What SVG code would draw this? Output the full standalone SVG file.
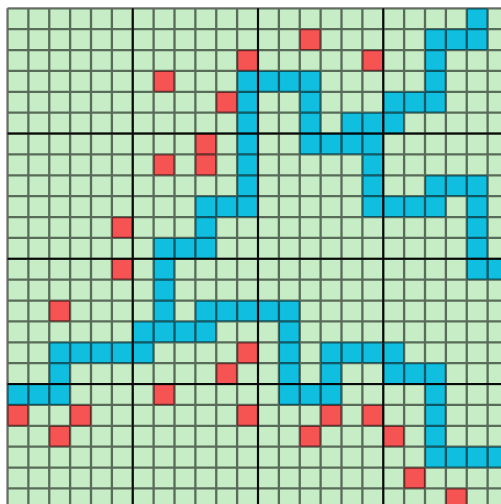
<svg xmlns="http://www.w3.org/2000/svg" width="501" height="504" viewBox="0 0 501 504">
  <style>
    .bg{fill:#ffffff}
    .empty{fill:#c6edc6}
    .wall{fill:#f65353}
    .path{fill:#10bee0}
    .grid{fill:none;stroke:#000;stroke-opacity:0.55;stroke-width:2.3}
    .major{fill:none;stroke:#000;stroke-opacity:0.9;stroke-width:2}
  </style>
  <rect class="bg" x="0" y="0" width="501" height="504"/>
  <g id="board" transform="translate(7.5 8.3) scale(20.875)">
    <rect class="empty" x="0" y="0" width="24" height="24"/>
    <g id="walls" class="wall">
      <rect x="14" y="1" width="1" height="1"/>
      <rect x="11" y="2" width="1" height="1"/>
      <rect x="17" y="2" width="1" height="1"/>
      <rect x="7" y="3" width="1" height="1"/>
      <rect x="10" y="4" width="1" height="1"/>
      <rect x="9" y="6" width="1" height="1"/>
      <rect x="7" y="7" width="1" height="1"/>
      <rect x="9" y="7" width="1" height="1"/>
      <rect x="5" y="10" width="1" height="1"/>
      <rect x="5" y="12" width="1" height="1"/>
      <rect x="2" y="14" width="1" height="1"/>
      <rect x="11" y="16" width="1" height="1"/>
      <rect x="10" y="17" width="1" height="1"/>
      <rect x="7" y="18" width="1" height="1"/>
      <rect x="0" y="19" width="1" height="1"/>
      <rect x="3" y="19" width="1" height="1"/>
      <rect x="11" y="19" width="1" height="1"/>
      <rect x="15" y="19" width="1" height="1"/>
      <rect x="17" y="19" width="1" height="1"/>
      <rect x="2" y="20" width="1" height="1"/>
      <rect x="14" y="20" width="1" height="1"/>
      <rect x="18" y="20" width="1" height="1"/>
      <rect x="19" y="22" width="1" height="1"/>
      <rect x="21" y="23" width="1" height="1"/>
    </g>
    <g id="route" class="path">
      <rect x="22" y="0" width="1" height="1"/>
      <rect x="20" y="1" width="3" height="1"/>
      <rect x="20" y="2" width="1" height="1"/>
      <rect x="11" y="3" width="4" height="1"/>
      <rect x="20" y="3" width="1" height="1"/>
      <rect x="11" y="4" width="1" height="1"/>
      <rect x="14" y="4" width="1" height="1"/>
      <rect x="18" y="4" width="3" height="1"/>
      <rect x="11" y="5" width="1" height="1"/>
      <rect x="14" y="5" width="1" height="1"/>
      <rect x="16" y="5" width="3" height="1"/>
      <rect x="11" y="6" width="1" height="1"/>
      <rect x="14" y="6" width="4" height="1"/>
      <rect x="11" y="7" width="1" height="1"/>
      <rect x="17" y="7" width="1" height="1"/>
      <rect x="11" y="8" width="1" height="1"/>
      <rect x="17" y="8" width="1" height="1"/>
      <rect x="20" y="8" width="3" height="1"/>
      <rect x="9" y="9" width="3" height="1"/>
      <rect x="17" y="9" width="4" height="1"/>
      <rect x="22" y="9" width="1" height="1"/>
      <rect x="9" y="10" width="1" height="1"/>
      <rect x="22" y="10" width="1" height="1"/>
      <rect x="7" y="11" width="3" height="1"/>
      <rect x="22" y="11" width="1" height="1"/>
      <rect x="7" y="12" width="1" height="1"/>
      <rect x="22" y="12" width="2" height="1"/>
      <rect x="7" y="13" width="1" height="1"/>
      <rect x="7" y="14" width="1" height="1"/>
      <rect x="9" y="14" width="5" height="1"/>
      <rect x="6" y="15" width="4" height="1"/>
      <rect x="13" y="15" width="1" height="1"/>
      <rect x="2" y="16" width="5" height="1"/>
      <rect x="13" y="16" width="1" height="1"/>
      <rect x="15" y="16" width="4" height="1"/>
      <rect x="2" y="17" width="1" height="1"/>
      <rect x="13" y="17" width="1" height="1"/>
      <rect x="15" y="17" width="1" height="1"/>
      <rect x="18" y="17" width="3" height="1"/>
      <rect x="0" y="18" width="3" height="1"/>
      <rect x="13" y="18" width="3" height="1"/>
      <rect x="20" y="18" width="1" height="1"/>
      <rect x="20" y="19" width="1" height="1"/>
      <rect x="20" y="20" width="1" height="1"/>
      <rect x="20" y="21" width="4" height="1"/>
    </g>
    <path class="grid" vector-effect="non-scaling-stroke" d="M0 0V24M1 0V24M2 0V24M3 0V24M4 0V24M5 0V24M6 0V24M7 0V24M8 0V24M9 0V24M10 0V24M11 0V24M12 0V24M13 0V24M14 0V24M15 0V24M16 0V24M17 0V24M18 0V24M19 0V24M20 0V24M21 0V24M22 0V24M23 0V24M24 0V24M0 0H24M0 1H24M0 2H24M0 3H24M0 4H24M0 5H24M0 6H24M0 7H24M0 8H24M0 9H24M0 10H24M0 11H24M0 12H24M0 13H24M0 14H24M0 15H24M0 16H24M0 17H24M0 18H24M0 19H24M0 20H24M0 21H24M0 22H24M0 23H24M0 24H24"/>
    <path class="major" vector-effect="non-scaling-stroke" d="M6 0V24M12 0V24M18 0V24M0 6H24M0 12H24M0 18H24"/>
  </g>
</svg>
